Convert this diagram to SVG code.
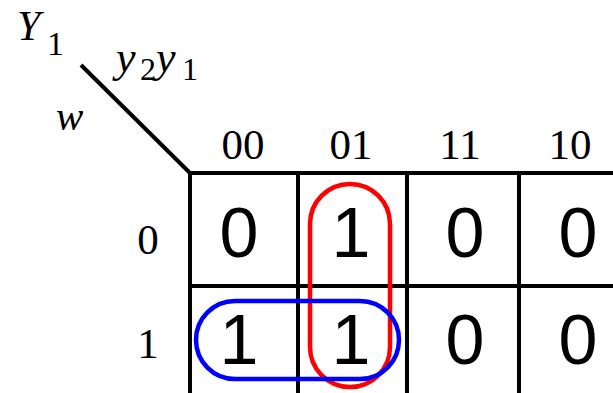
<svg xmlns="http://www.w3.org/2000/svg" width="613" height="393" viewBox="0 0 613 393">
<style>
.grid{stroke:#000;stroke-width:4;fill:none}
.loop{fill:none;stroke-width:4.5}
</style>
<rect width="613" height="393" fill="#fff"/>
<g id="labels" fill="#000">
<text x="17" y="40" font-family="Liberation Serif" font-style="italic" font-size="42">Y</text>
<text x="47" y="55" font-family="Liberation Serif" font-size="34">1</text>
<text x="116" y="72" font-family="Liberation Serif" font-style="italic" font-size="44">y</text>
<text x="140" y="80" font-family="Liberation Serif" font-size="32">2</text>
<text x="156" y="72" font-family="Liberation Serif" font-style="italic" font-size="44">y</text>
<text x="182" y="80" font-family="Liberation Serif" font-size="32">1</text>
<text x="56" y="130" font-family="Liberation Serif" font-style="italic" font-size="41">w</text>
</g>
<g id="connectors">
<line class="grid" x1="81" y1="65" x2="190" y2="173"/>
<line class="grid" x1="188" y1="173" x2="613" y2="173"/>
<line class="grid" x1="190" y1="286" x2="613" y2="286"/>
<line class="grid" x1="190" y1="171" x2="190" y2="393"/>
<line class="grid" x1="298" y1="173" x2="298" y2="393"/>
<line class="grid" x1="407" y1="173" x2="407" y2="393"/>
<line class="grid" x1="519" y1="173" x2="519" y2="393"/>
</g>
<g id="col-headers" fill="#000">
<text x="243" y="159" font-family="Liberation Serif" font-size="43" text-anchor="middle">00</text>
<text x="351" y="159" font-family="Liberation Serif" font-size="43" text-anchor="middle">01</text>
<text x="460" y="159" font-family="Liberation Serif" font-size="43" text-anchor="middle">11</text>
<text x="570" y="159" font-family="Liberation Serif" font-size="43" text-anchor="middle">10</text>
</g>
<g id="row-headers" fill="#000">
<text x="148" y="254" font-family="Liberation Serif" font-size="43" text-anchor="middle">0</text>
<text x="148" y="358" font-family="Liberation Serif" font-size="43" text-anchor="middle">1</text>
</g>
<g id="cells" fill="#000">
<text x="239" y="257" font-family="Liberation Sans" font-size="70" text-anchor="middle">0</text>
<text x="351" y="257" font-family="Liberation Sans" font-size="70" text-anchor="middle">1</text>
<text x="465" y="257" font-family="Liberation Sans" font-size="70" text-anchor="middle">0</text>
<text x="578" y="257" font-family="Liberation Sans" font-size="70" text-anchor="middle">0</text>
<text x="239" y="364" font-family="Liberation Sans" font-size="70" text-anchor="middle">1</text>
<text x="351" y="364" font-family="Liberation Sans" font-size="70" text-anchor="middle">1</text>
<text x="465" y="364" font-family="Liberation Sans" font-size="70" text-anchor="middle">0</text>
<text x="578" y="364" font-family="Liberation Sans" font-size="70" text-anchor="middle">0</text>
</g>
<g id="loop-red">
<rect class="loop" x="310" y="184" width="80" height="203" rx="40" stroke="#ff0000"/>
</g>
<g id="loop-blue">
<rect class="loop" x="196" y="301" width="203" height="78" rx="39" stroke="#0000ff"/>
</g>
</svg>
